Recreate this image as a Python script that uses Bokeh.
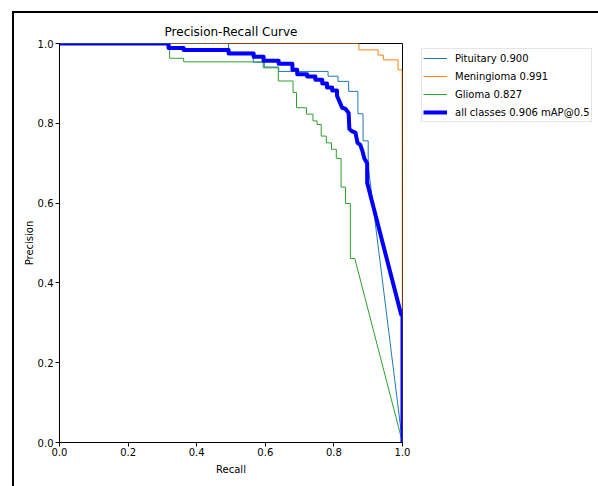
from bokeh.plotting import figure
from bokeh.models import Legend, LegendItem, FixedTicker
from bokeh.embed import file_html
from bokeh.resources import INLINE

# ---- data ----
pit_recall = [0.0, 0.493, 0.493, 0.565, 0.565, 0.597, 0.597, 0.639, 0.639, 0.783, 0.783,
              0.812, 0.812, 0.843, 0.843, 0.870, 0.870, 0.885, 0.885, 0.900, 0.900, 1.0]
pit_precision = [1.0, 1.0, 0.978, 0.978, 0.953, 0.953, 0.941, 0.941, 0.930, 0.930, 0.918,
                 0.918, 0.905, 0.905, 0.880, 0.880, 0.824, 0.824, 0.756, 0.756, 0.693, 0.0]

men_recall = [0.0, 0.873, 0.873, 0.929, 0.929, 0.944, 0.944, 0.987, 0.987, 0.999, 1.0]
men_precision = [1.0, 1.0, 0.984, 0.984, 0.971, 0.971, 0.959, 0.959, 0.934, 0.934, 0.0]

gli_recall = [0.0, 0.321, 0.321, 0.362, 0.362, 0.594, 0.594, 0.638, 0.638, 0.681, 0.681,
              0.691, 0.691, 0.720, 0.720, 0.739, 0.739, 0.751, 0.751, 0.763, 0.763, 0.778,
              0.778, 0.793, 0.793, 0.807, 0.807, 0.821, 0.821, 0.834, 0.834, 0.848, 0.848,
              0.861, 1.0]
gli_precision = [1.0, 1.0, 0.963, 0.963, 0.954, 0.954, 0.939, 0.939, 0.906, 0.906, 0.877,
                 0.877, 0.839, 0.839, 0.823, 0.823, 0.806, 0.806, 0.797, 0.797, 0.768, 0.768,
                 0.751, 0.751, 0.735, 0.735, 0.712, 0.712, 0.640, 0.640, 0.599, 0.599, 0.461,
                 0.461, 0.0]

all_recall = [0.0, 0.318, 0.318, 0.362, 0.362, 0.493, 0.493, 0.566, 0.566, 0.595, 0.595,
              0.639, 0.639, 0.679, 0.679, 0.693, 0.693, 0.722, 0.722, 0.746, 0.746, 0.766,
              0.766, 0.780, 0.780, 0.795, 0.795, 0.809, 0.809, 0.824, 0.834, 0.843, 0.845,
              0.851, 0.863, 0.869, 0.877, 0.883, 0.889, 0.897, 0.897, 0.996, 1.0, 1.0]
all_precision = [1.0, 1.0, 0.989, 0.989, 0.984, 0.984, 0.975, 0.975, 0.967, 0.967, 0.957,
                 0.957, 0.949, 0.949, 0.934, 0.934, 0.923, 0.923, 0.917, 0.917, 0.909, 0.909,
                 0.900, 0.900, 0.890, 0.890, 0.882, 0.882, 0.869, 0.839, 0.836, 0.826, 0.786,
                 0.781, 0.776, 0.751, 0.746, 0.731, 0.711, 0.700, 0.651, 0.321, 0.321, 0.0]

legend_labels = ["Pituitary 0.900", "Meningioma 0.991", "Glioma 0.827",
                 "all classes 0.906 mAP@0.5"]
tick_values = [0.0, 0.2, 0.4, 0.6, 0.8, 1.0]
tick_labels = ["0.0", "0.2", "0.4", "0.6", "0.8", "1.0"]

FONT = "DejaVu Sans"

p = figure(
    frame_width=343, frame_height=399,
    min_border_left=59, min_border_right=196, min_border_top=43, min_border_bottom=44,
    x_range=(0, 1), y_range=(0, 1),
    output_backend="svg", toolbar_location=None,
    title="Precision-Recall Curve",
)
p.border_fill_color = None
p.background_fill_color = "white"
p.outline_line_color = "black"
p.outline_line_width = 1
p.grid.visible = False
p.styles = {
    "background": "linear-gradient(#000,#000) 12px 11px / 2px calc(100% - 11px) no-repeat, "
                  "linear-gradient(#000,#000) 12px 11px / calc(100% - 12px) 2px no-repeat"
}

p.title.text_font = FONT
p.title.text_font_size = "12px"
p.title.text_font_style = "normal"
p.title.align = "center"
p.title.text_color = "black"
p.title.standoff = 10

for ax in (p.xaxis[0], p.yaxis[0]):
    ax.ticker = FixedTicker(ticks=tick_values)
    ax.major_label_overrides = {v: s for v, s in zip(tick_values, tick_labels)}
    ax.major_label_text_font = FONT
    ax.major_label_text_font_size = "10px"
    ax.major_label_text_color = "black"
    ax.axis_label_text_font = FONT
    ax.axis_label_text_font_size = "10px"
    ax.axis_label_text_font_style = "normal"
    ax.axis_label_text_color = "black"
    ax.major_tick_in = 0
    ax.major_tick_out = 4
    ax.minor_tick_in = 0
    ax.minor_tick_out = 0
    ax.axis_line_color = "black"
    ax.major_tick_line_color = "black"

p.xaxis.axis_label = "Recall"
p.yaxis.axis_label = "Precision"
p.xaxis.major_label_standoff = 1
p.yaxis.major_label_standoff = 2
p.xaxis.axis_label_standoff = 5
p.yaxis.axis_label_standoff = 0

r_pit = p.line(pit_recall, pit_precision, line_color="#1f77b4", line_width=1)
r_men = p.line(men_recall, men_precision, line_color="#ff7f0e", line_width=1)
r_gli = p.line(gli_recall, gli_precision, line_color="#2ca02c", line_width=1)
r_all = p.line(all_recall, all_precision, line_color="#0000ff", line_width=4,
               line_join="round")

legend = Legend(
    items=[LegendItem(label=legend_labels[0], renderers=[r_pit]),
           LegendItem(label=legend_labels[1], renderers=[r_men]),
           LegendItem(label=legend_labels[2], renderers=[r_gli]),
           LegendItem(label=legend_labels[3], renderers=[r_all])],
    location=(19, 320),
    margin=0, padding=1, spacing=2,
    glyph_width=24, glyph_height=16, label_height=16, label_standoff=8,
    label_text_font=FONT, label_text_font_size="10px", label_text_color="black",
    border_line_color="#cccccc", border_line_width=1,
    background_fill_color="white", background_fill_alpha=1.0,
)
p.add_layout(legend, "right")

open("out.html", "w").write(file_html(p, INLINE))
